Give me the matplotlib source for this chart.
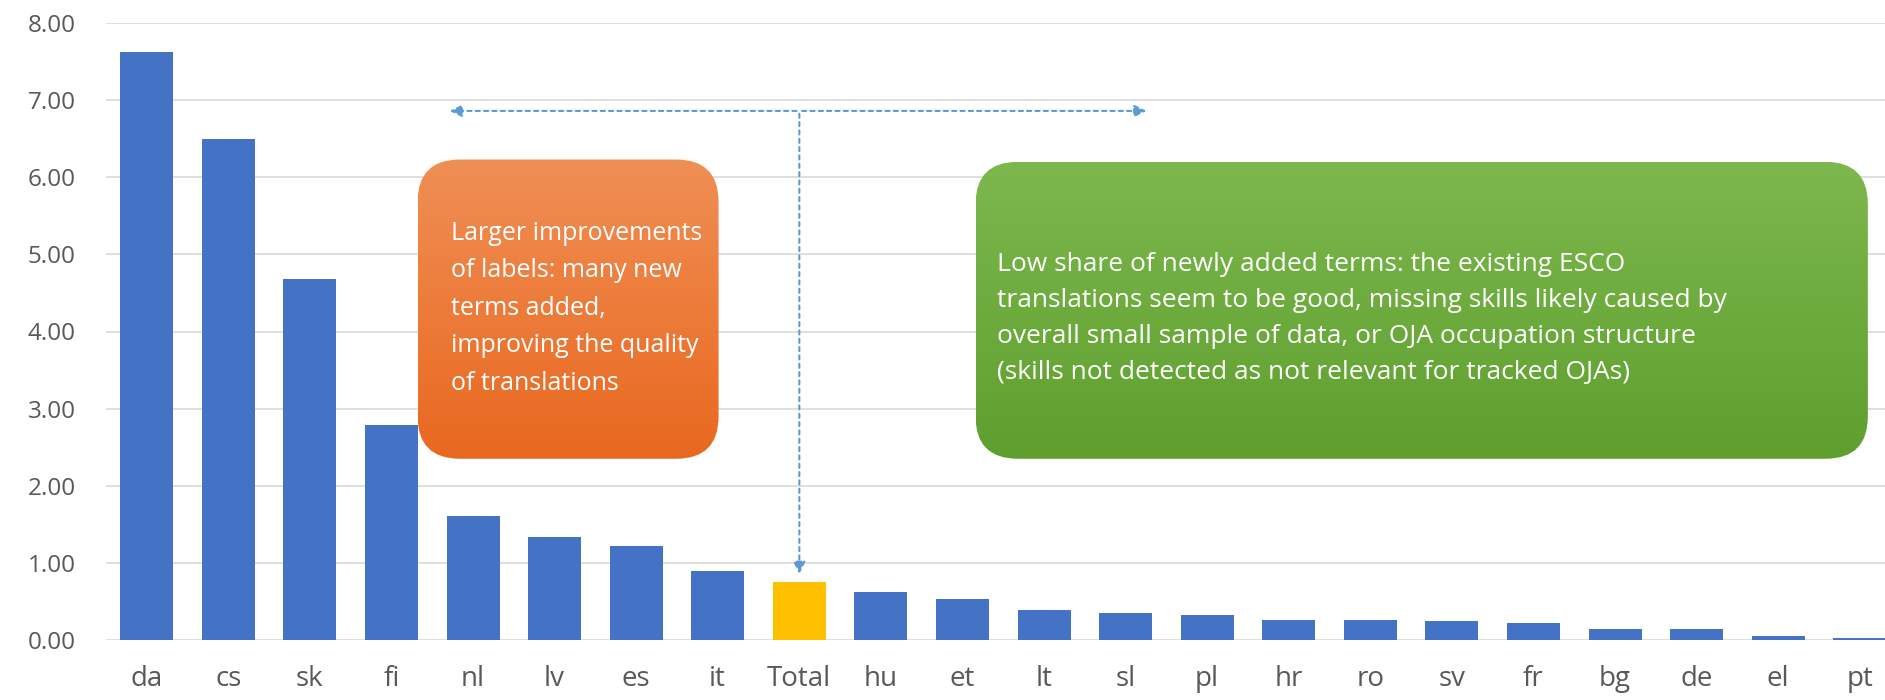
import numpy as np
import matplotlib
matplotlib.use("Agg")
import matplotlib.pyplot as plt
from matplotlib.patches import FancyBboxPatch

# ── Data ─────────────────────────────────────────────────────────────────────
languages = ["da", "cs", "sk", "fi", "nl", "lv", "es", "it", "Total", "hu", "et",
             "lt", "sl", "pl", "hr", "ro", "sv", "fr", "bg", "de", "el", "pt"]
values = [7.63, 6.49, 4.68, 2.79, 1.61, 1.33, 1.22, 0.90, 0.75, 0.62, 0.53,
          0.39, 0.35, 0.33, 0.26, 0.26, 0.24, 0.22, 0.14, 0.14, 0.05, 0.02]
highlight = "Total"
y_ticks = [0, 1, 2, 3, 4, 5, 6, 7, 8]

orange_text = ("Larger improvements\nof labels: many new\nterms added,\n"
               "improving the quality\nof translations")
green_text = ("Low share of newly added terms: the existing ESCO\n"
              "translations seem to be good, missing skills likely caused by\n"
              "overall small sample of data, or OJA occupation structure\n"
              "(skills not detected as not relevant for tracked OJAs)")

BLUE = "#4472C4"
GOLD = "#FFC000"
GREY = "#595959"
ARROW = "#5B9BD5"

plt.rcParams["font.family"] = ["Open Sans", "DejaVu Sans"]

fig = plt.figure(figsize=(18.85, 7.0), dpi=100)
ax = fig.add_axes([106 / 1885, 60 / 700, 1 - 106 / 1885, (677 - 60) / 700])

x = np.arange(len(languages))
colors = [GOLD if l == highlight else BLUE for l in languages]
ax.bar(x, values, width=0.65, color=colors, zorder=3)

ax.set_xlim(-0.5, 21.31)
ax.set_ylim(0, 8)
ax.set_yticks(y_ticks)
ax.set_yticklabels([f"{v:.2f}" for v in y_ticks])
ax.set_xticks(x)
ax.set_xticklabels(languages)
ax.tick_params(axis="both", length=0, colors=GREY)
ax.tick_params(axis="y", pad=22, labelsize=17.5)
ax.tick_params(axis="x", pad=18, labelsize=20)
ax.grid(axis="y", color="#d9d9d9", lw=1.2, zorder=0)
for s in ax.spines.values():
    s.set_visible(False)

# ── Annotation boxes with vertical gradient ──────────────────────────────────
def gradient_box(x0, y0, x1, y1, top, bottom):
    patch = FancyBboxPatch((x0, y0), x1 - x0, y1 - y0,
                           boxstyle="round,pad=0,rounding_size=0.52",
                           mutation_aspect=1.058, fc="none", ec="none", zorder=4)
    ax.add_patch(patch)
    c_top = np.array(matplotlib.colors.to_rgb(top))
    c_bot = np.array(matplotlib.colors.to_rgb(bottom))
    t = np.linspace(0, 1, 256)[:, None]
    grad = (c_top * (1 - t) + c_bot * t)[:, None, :]
    im = ax.imshow(grad, extent=(x0, x1, y0, y1), origin="upper",
                   aspect="auto", zorder=4)
    im.set_clip_path(patch)

gradient_box(3.32, 2.35, 7.01, 6.23, "#F08F55", "#E9681F")
gradient_box(10.16, 2.35, 21.10, 6.20, "#7DB84E", "#5E9F2E")

ax.text(3.73, 4.30, orange_text, color="white", fontsize=18, va="center",
        ha="left", linespacing=1.66, zorder=5)
ax.text(10.42, 4.17, green_text, color="white", fontsize=19, va="center",
        ha="left", linespacing=1.57, zorder=5)

# ── Dotted arrows ────────────────────────────────────────────────────────────
arrow_kw = dict(color=ARROW, lw=1.5, ls=(0, (2, 2)))
ax.annotate("", xy=(3.68, 6.86), xytext=(8.0, 6.86),
            arrowprops=dict(arrowstyle="-|>", mutation_scale=18, **arrow_kw), zorder=5)
ax.annotate("", xy=(12.29, 6.86), xytext=(8.0, 6.86),
            arrowprops=dict(arrowstyle="-|>", mutation_scale=18, **arrow_kw), zorder=5)
ax.annotate("", xy=(8.0, 0.82), xytext=(8.0, 6.86),
            arrowprops=dict(arrowstyle="-|>", mutation_scale=18, **arrow_kw), zorder=5)

fig.savefig("out.png", dpi=100)
